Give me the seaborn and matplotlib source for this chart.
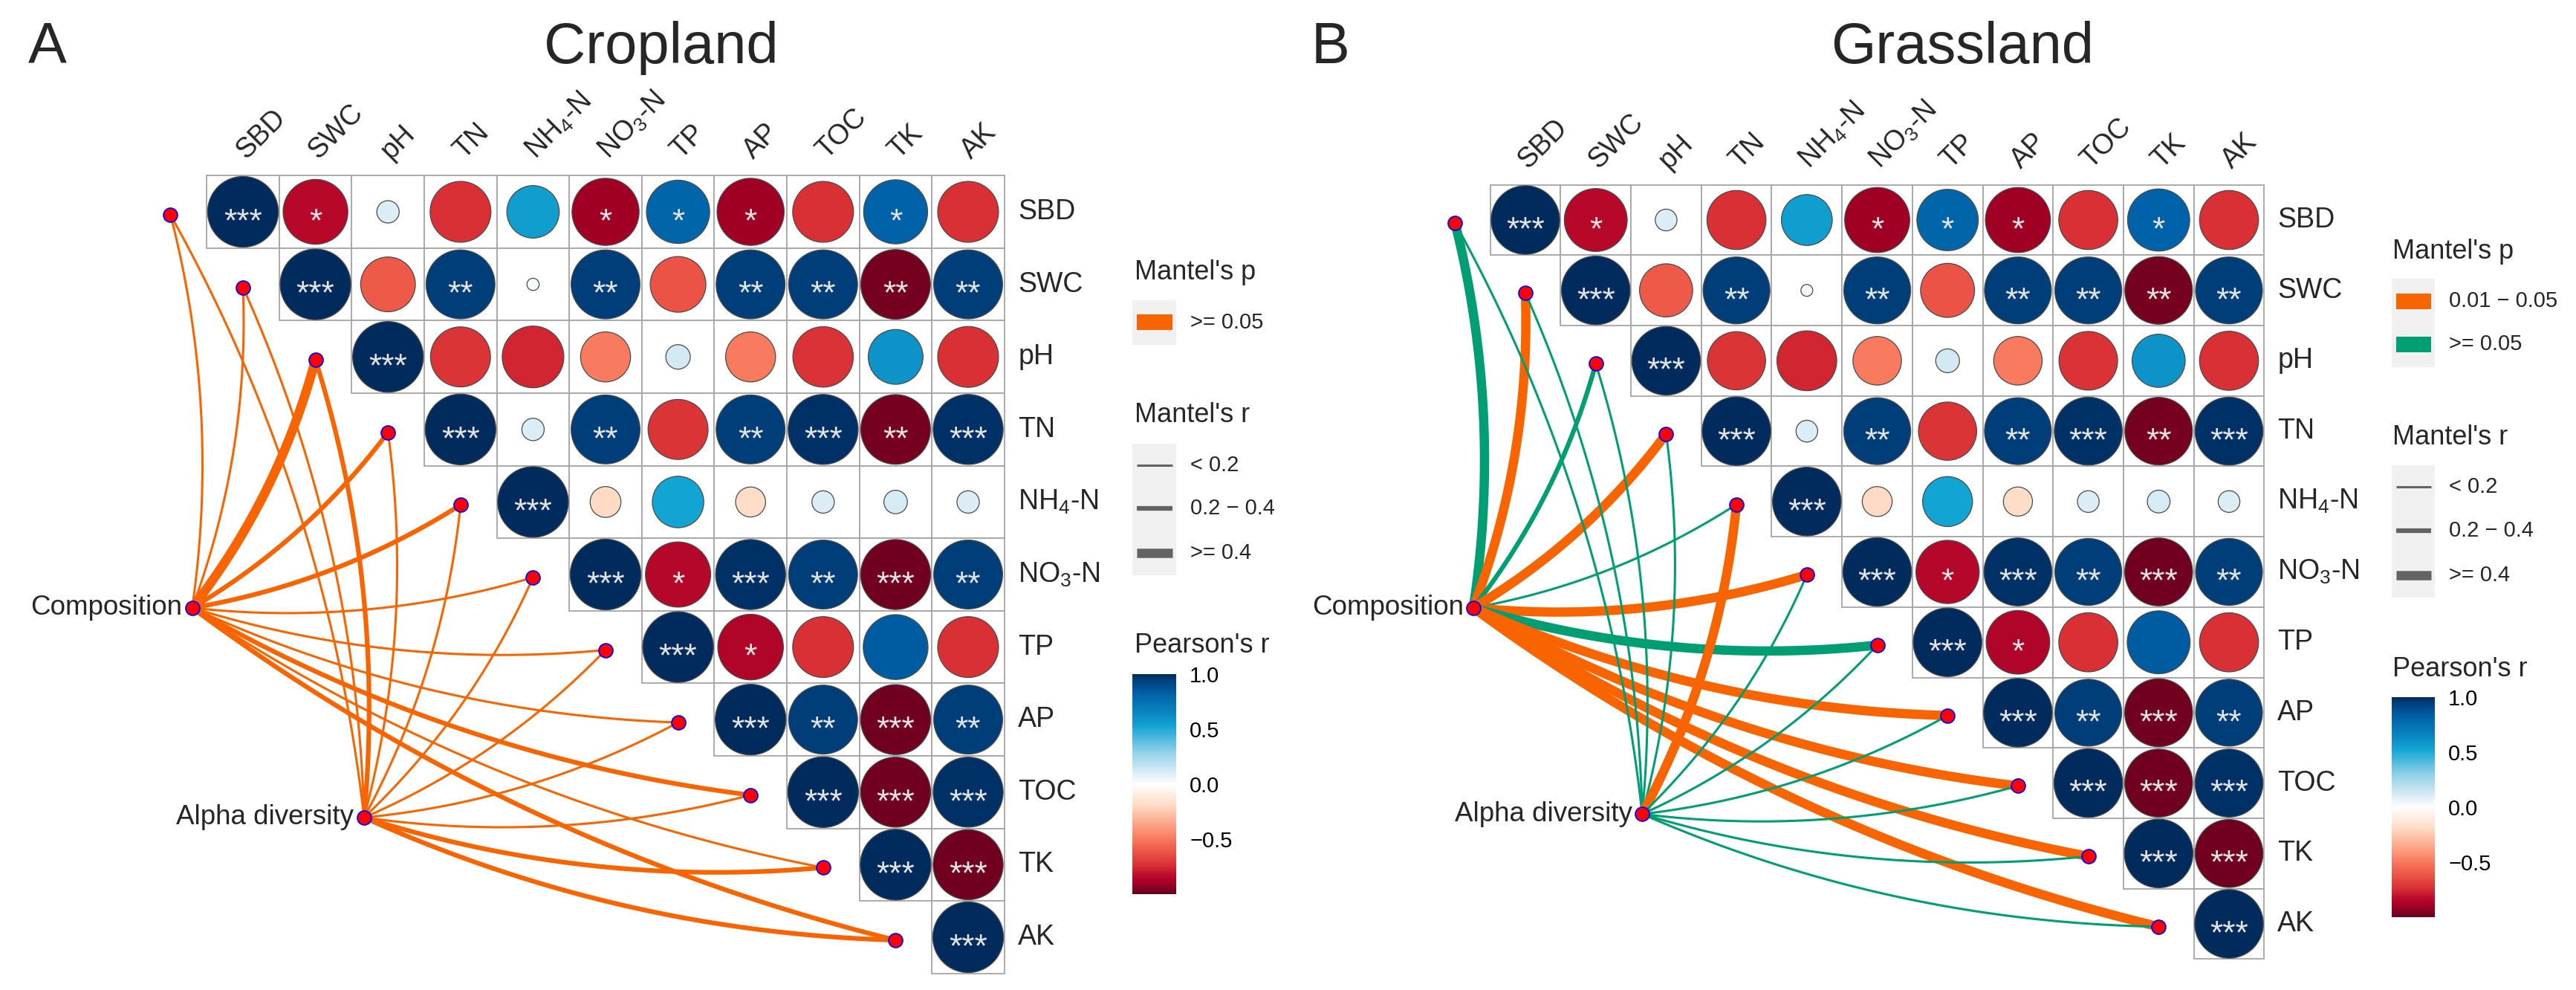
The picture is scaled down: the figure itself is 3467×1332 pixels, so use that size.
import numpy as np
import pandas as pd
import matplotlib
matplotlib.use("Agg")
import matplotlib.pyplot as plt
import seaborn as sns
from matplotlib.colors import LinearSegmentedColormap, Normalize
from matplotlib.patches import Rectangle
from matplotlib.cm import ScalarMappable

# ---------------------------------------------------------------- data
variables = ["SBD", "SWC", "pH", "TN", "NH4-N", "NO3-N", "TP", "AP", "TOC", "TK", "AK"]
var_labels = ["SBD", "SWC", "pH", "TN", r"NH$_\mathregular{4}$-N", r"NO$_\mathregular{3}$-N",
              "TP", "AP", "TOC", "TK", "AK"]

# Pearson's r, upper triangle; each row starts at its diagonal cell
r_SBD = [1.00, -0.84, 0.10, -0.74, 0.55, -0.90, 0.80, -0.90, -0.74, 0.82, -0.74]
r_SWC = [1.00, -0.60, 0.95, 0.03, 0.95, -0.62, 0.95, 0.95, -0.97, 0.95]
r_pH = [1.00, -0.72, -0.76, -0.50, 0.12, -0.50, -0.73, 0.60, -0.74]
r_TN = [1.00, 0.10, 0.95, -0.72, 0.95, 0.98, -0.97, 0.98]
r_NH4 = [1.00, -0.19, 0.53, -0.18, 0.10, 0.11, 0.10]
r_NO3 = [1.00, -0.85, 0.98, 0.95, -0.98, 0.95]
r_TP = [1.00, -0.86, -0.74, 0.84, -0.74]
r_AP = [1.00, 0.95, -0.98, 0.95]
r_TOC = [1.00, -0.98, 0.98]
r_TK = [1.00, -0.98]
r_AK = [1.00]

sig_SBD = ["***", "*", "", "", "", "*", "*", "*", "", "*", ""]
sig_SWC = ["***", "", "**", "", "**", "", "**", "**", "**", "**"]
sig_pH = ["***", "", "", "", "", "", "", "", ""]
sig_TN = ["***", "", "**", "", "**", "***", "**", "***"]
sig_NH4 = ["***", "", "", "", "", "", ""]
sig_NO3 = ["***", "*", "***", "**", "***", "**"]
sig_TP = ["***", "*", "", "", ""]
sig_AP = ["***", "**", "***", "**"]
sig_TOC = ["***", "***", "***"]
sig_TK = ["***", "***"]
sig_AK = ["***"]

# Mantel tests: r class 0 "< 0.2", 1 "0.2 - 0.4", 2 ">= 0.4"
r_classes = ["< 0.2", "0.2 \u2212 0.4", ">= 0.4"]
crop_comp_r = [0, 0, 2, 1, 1, 0, 0, 0, 1, 0, 1]
crop_comp_p = [">= 0.05"] * 11
crop_alpha_r = [0, 0, 1, 0, 0, 0, 0, 0, 0, 1, 1]
crop_alpha_p = [">= 0.05"] * 11
crop_p_levels = [">= 0.05"]

grass_comp_r = [2, 2, 1, 2, 0, 2, 2, 2, 2, 2, 2]
grass_comp_p = [">= 0.05", "0.01 \u2212 0.05", ">= 0.05", "0.01 \u2212 0.05", ">= 0.05",
                "0.01 \u2212 0.05", ">= 0.05", "0.01 \u2212 0.05", "0.01 \u2212 0.05",
                "0.01 \u2212 0.05", "0.01 \u2212 0.05"]
grass_alpha_r = [0, 0, 0, 0, 2, 0, 0, 0, 0, 0, 0]
grass_alpha_p = [">= 0.05"] * 4 + ["0.01 \u2212 0.05"] + [">= 0.05"] * 6
grass_p_levels = ["0.01 \u2212 0.05", ">= 0.05"]

sources = ["Composition", "Alpha diversity"]
cbar_ticks = [-0.5, 0.0, 0.5, 1.0]
cbar_ticklabels = ["\u22120.5", "0.0", "0.5", "1.0"]

# ---------------------------------------------------------------- style
sns.set_style("white")
plt.rcParams["font.family"] = ["Liberation Sans", "DejaVu Sans"]
plt.rcParams["mathtext.fontset"] = "custom"
plt.rcParams["mathtext.rm"] = "Liberation Sans"

W, H, DPI = 3467, 1332, 100
fig = plt.figure(figsize=(W / DPI, H / DPI), dpi=DPI)
fig.patch.set_facecolor("white")

ORANGE = "#F86400"
GREEN = "#009E73"
LW = [2.2, 4.5, 9.0]
LABEL_FS = 27
STAR_FS = 32

stops = [(-1.0, "#67001F"), (-0.97, "#7A0020"), (-0.9, "#A50026"), (-0.84, "#B8082A"),
         (-0.74, "#D93035"), (-0.6, "#EE5A48"), (-0.5, "#F8795E"), (-0.35, "#FCAA8C"),
         (-0.19, "#FFDCC6"), (0.0, "#FFFFFF"), (0.1, "#DCEDF5"), (0.3, "#8DD0E8"),
         (0.53, "#12A4D2"), (0.65, "#0A86C0"), (0.82, "#0062A8"), (0.95, "#003F7B"),
         (1.0, "#002B5C")]
cmap = LinearSegmentedColormap.from_list("pearson", [((v + 1) / 2, c) for v, c in stops])

r_rows = [r_SBD, r_SWC, r_pH, r_TN, r_NH4, r_NO3, r_TP, r_AP, r_TOC, r_TK, r_AK]
sig_rows = [sig_SBD, sig_SWC, sig_pH, sig_TN, sig_NH4, sig_NO3, sig_TP, sig_AP, sig_TOC, sig_TK, sig_AK]
recs = []
for i, (rr, ss) in enumerate(zip(r_rows, sig_rows)):
    for k, (r, s) in enumerate(zip(rr, ss)):
        recs.append(dict(row=i, col=i + k, r=r, sig=s))
corr_df = pd.DataFrame(recs)
n = len(variables)


def bezier(p0, p2, k=0.1, npts=80):
    p0 = np.asarray(p0, float)
    p2 = np.asarray(p2, float)
    d = p2 - p0
    c = (p0 + p2) / 2 + k * np.array([-d[1], d[0]])
    t = np.linspace(0, 1, npts)[:, None]
    return (1 - t) ** 2 * p0 + 2 * (1 - t) * t * c + t ** 2 * p2


def draw_panel(cell, ox, oy, comp_xy, alpha_xy, comp_r, comp_p, alpha_r, alpha_p, pcol):
    ax = fig.add_axes([0, 0, 1, 1])
    ax.patch.set_alpha(0)
    # grid
    for _, rw in corr_df.iterrows():
        ax.add_patch(Rectangle((rw["col"] - 0.5, rw["row"] - 0.5), 1, 1, facecolor="white",
                               edgecolor="#A5A5A5", lw=1.3, zorder=1))
    cell_pt = cell * 72 / DPI
    sizes = (0.975 * np.sqrt(np.abs(corr_df["r"].values)) * cell_pt) ** 2
    sns.scatterplot(data=corr_df, x="col", y="row", hue="r", palette=cmap, hue_norm=(-1, 1),
                    s=sizes, edgecolor="#4A4A4A", linewidth=0.9, legend=False, ax=ax, zorder=3)
    star_off = 0.59 * STAR_FS * DPI / 72 / cell
    for _, rw in corr_df.iterrows():
        if rw["sig"]:
            ax.text(rw["col"], rw["row"] + star_off, rw["sig"], ha="center", va="baseline",
                    fontsize=STAR_FS, color="#E4E4E4", family="Liberation Sans", zorder=4)
    # labels
    for i, lab in enumerate(var_labels):
        ax.text(n - 0.5 + 0.19, i, lab, ha="left", va="center", fontsize=LABEL_FS)
        ax.text(i + 0.04, -0.5 - 0.215, lab, ha="left", va="baseline", rotation=45,
                rotation_mode="anchor", fontsize=LABEL_FS)
    # links
    env_xy = [(i - 1, i + 0.04) for i in range(n)]
    for src, rc, pc in [(comp_xy, comp_r, comp_p), (alpha_xy, alpha_r, alpha_p)]:
        for i in range(n):
            pts = bezier(src, env_xy[i])
            ax.plot(pts[:, 0], pts[:, 1], color=pcol[pc[i]], lw=LW[rc[i]],
                    solid_capstyle="butt", zorder=2)
    node_df = pd.DataFrame(env_xy + [comp_xy, alpha_xy], columns=["x", "y"])
    sns.scatterplot(data=node_df, x="x", y="y", color="red", edgecolor="blue", linewidth=1.3,
                    s=185, legend=False, ax=ax, zorder=6)
    for name, xy in zip(sources, [comp_xy, alpha_xy]):
        ax.text(xy[0] - 0.14, xy[1], name, ha="right", va="center", fontsize=26.5)
    ax.set_xlim(-ox / cell, (W - ox) / cell)
    ax.set_ylim((H - oy) / cell, -oy / cell)
    ax.set_axis_off()
    return ax


draw_panel(97.6, 327, 285, (-0.70, 5.46), (1.67, 8.35), crop_comp_r, crop_comp_p,
           crop_alpha_r, crop_alpha_p, {">= 0.05": ORANGE})
draw_panel(94.7, 2053, 296, (-0.74, 5.51), (1.66, 8.44), grass_comp_r, grass_comp_p,
           grass_alpha_r, grass_alpha_p, {"0.01 \u2212 0.05": ORANGE, ">= 0.05": GREEN})

# ---------------------------------------------------------------- overlay: titles & legends
lax = fig.add_axes([0, 0, 1, 1])
lax.patch.set_alpha(0)
lax.set_xlim(0, W)
lax.set_ylim(H, 0)
lax.set_axis_off()

lax.text(38, 85, "A", fontsize=56, ha="left", va="baseline")
lax.text(890, 85, "Cropland", fontsize=56, ha="center", va="baseline")
lax.text(1765, 85, "B", fontsize=56, ha="left", va="baseline")
lax.text(2641, 85, "Grassland", fontsize=56, ha="center", va="baseline")

TITLE_FS = 26
LEG_FS = 21


def draw_legend(xt, kx, kw, lx, p_title_y, p_levels, p_colors, p_ys, r_title_y, r_ys,
                pear_y, cb_top):
    lax.text(xt, p_title_y, "Mantel's p", fontsize=TITLE_FS, ha="left", va="center")
    lax.add_patch(Rectangle((kx, p_ys[0] - 30), kw, 59 * len(p_levels) + 1, fc="#F0F0F0",
                            ec="none"))
    for lev, y in zip(p_levels, p_ys):
        lax.add_patch(Rectangle((kx + 6, y - 10.5), kw - 11, 21, fc=p_colors[lev], ec="none"))
        lax.text(lx, y, lev, fontsize=LEG_FS, ha="left", va="center")
    lax.text(xt, r_title_y, "Mantel's r", fontsize=TITLE_FS, ha="left", va="center")
    lax.add_patch(Rectangle((kx, r_ys[0] - 29), kw, r_ys[-1] - r_ys[0] + 59, fc="#F0F0F0",
                            ec="none"))
    for lab, y, lw in zip(r_classes, r_ys, LW):
        lax.plot([kx + 6, kx + kw - 5], [y, y], color="#636363", lw=lw, solid_capstyle="butt")
        lax.text(lx, y, lab, fontsize=LEG_FS, ha="left", va="center")
    lax.text(xt, pear_y, "Pearson's r", fontsize=TITLE_FS, ha="left", va="center")
    cax = fig.add_axes([kx / W, 1 - (cb_top + 296) / H, kw / W, 296 / H])
    cb = fig.colorbar(ScalarMappable(norm=Normalize(-1, 1), cmap=cmap), cax=cax)
    cb.outline.set_visible(False)
    cb.set_ticks(cbar_ticks)
    cb.set_ticklabels(cbar_ticklabels)
    cax.tick_params(direction="in", length=9, width=1.3, color="white", left=True, right=True,
                    labelsize=LEG_FS, labelcolor="black", pad=13)


draw_legend(1527, 1524, 59, 1602, 367, crop_p_levels, {">= 0.05": ORANGE}, [433.5],
            559, [626, 684, 744], 869, 907)
draw_legend(3220, 3219, 58, 3296, 338, grass_p_levels,
            {"0.01 \u2212 0.05": ORANGE, ">= 0.05": GREEN}, [405, 463],
            589, [655, 714, 774], 900, 938)

fig.savefig("out.png", dpi=DPI, facecolor="white")
